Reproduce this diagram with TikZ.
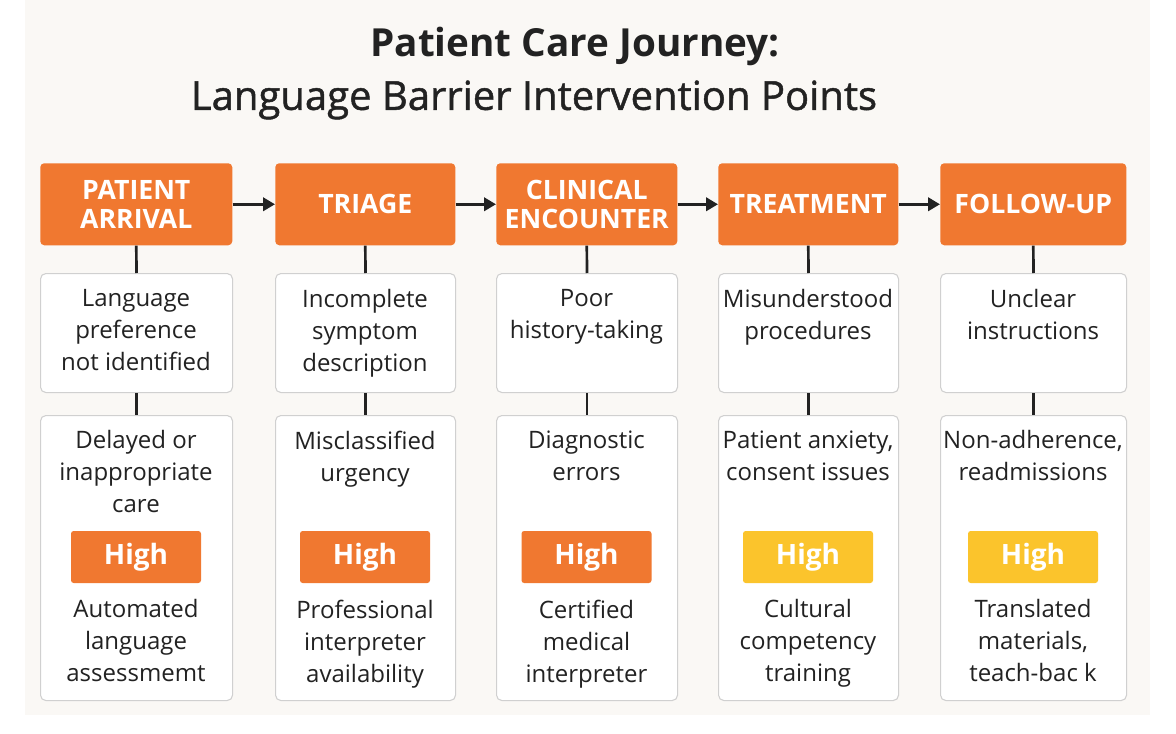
\documentclass[tikz,border=0pt]{standalone}
\usepackage{fontspec}
\setmainfont{Open Sans}
\usetikzlibrary{arrows.meta,positioning}
\definecolor{org}{HTML}{F07830}
\definecolor{yel}{HTML}{FBC42C}
\definecolor{bg}{HTML}{FAF8F5}
\definecolor{bd}{HTML}{D0D0D0}
\definecolor{ink}{HTML}{222222}
\begin{document}
\begin{tikzpicture}[x=0.75pt,y=-0.75pt,
 hdr/.style={fill=org,rounded corners=3pt,text=white,font=\fontsize{20}{22}\selectfont\bfseries,align=center,anchor=north west,inner sep=0pt},
 box/.style={draw=bd,line width=0.8pt,fill=white,rounded corners=4pt,anchor=north west,inner sep=0pt},
 txt/.style={text=ink,font=\fontsize{18}{24}\selectfont,align=center},
 badge/.style={rounded corners=2pt,text=white,font=\fontsize{21}{22}\selectfont\bfseries,minimum width=97.5pt,minimum height=39pt,inner sep=0pt},
 con/.style={draw=ink,line width=2pt},
 arr/.style={draw=ink,line width=2.2pt,-{Triangle[length=9pt,width=10pt]}}]
\fill[white] (0,0) rectangle (1176,734);
\fill[bg] (25,0) rectangle (1150,715);
\node[font=\fontsize{29}{32}\selectfont\bfseries,text=ink] (t1) at (575,46) {Patient Care Journey:};
\node[font=\fontsize{30}{32}\selectfont,text=ink] (t2) at (534,100) {\addfontfeature{FakeBold=1.2}Language Barrier Intervention Points};
\foreach \i/\xa/\xb/\hd/\ta/\tb/\tc/\bc in {
 1/40/232/{PATIENT\\ARRIVAL}/{Language\\preference\\not identified}/{Delayed or\\inappropriate\\care}/{Automated\\language\\assessmemt}/org,
 2/275/455/{TRIAGE}/{Incomplete\\symptom\\description}/{Misclassified\\urgency}/{Professional\\interpreter\\availability}/org,
 3/496/677/{CLINICAL\\ENCOUNTER}/{Poor\\history-taking}/{Diagnostic\\errors}/{Certified\\medical\\interpreter}/org,
 4/718/898/{TREATMENT}/{Misunderstood\\procedures}/{Patient anxiety,\\consent issues}/{Cultural\\competency\\training}/yel,
 5/940/1126/{FOLLOW-UP}/{Unclear\\instructions}/{Non-adherence,\\readmissions}/{Translated\\materials,\\teach-bac k}/yel}{
 \pgfmathsetmacro{\w}{(\xb-\xa)*0.75}
 \pgfmathsetmacro{\cx}{(\xa+\xb)/2}
 \node[hdr,minimum width=\w pt,minimum height=61.5pt] (h\i) at (\xa,163) {\hd};
 \node[box,minimum width=\w pt,minimum height=89.25pt] (a\i) at (\xa,273) {};
 \node[box,minimum width=\w pt,minimum height=213.75pt] (b\i) at (\xa,415) {};
 \node[txt,anchor=north] (ta\i) at (\cx,285) {\ta};
 \node[txt,anchor=north] (tb\i) at (\cx,426) {\tb};
 \node[badge,fill=\bc] (g\i) at (\cx,557) {High};
 \node[txt,anchor=north] (tc\i) at (\cx,595) {\tc};
 \draw[con] (h\i.south) -- (a\i.north);
 \draw[con] (a\i.south) -- (b\i.north);
}
\foreach \i/\j in {1/2,2/3,3/4,4/5}{\draw[arr] (h\i.east) -- (h\j.west);}
\end{tikzpicture}
\end{document}
